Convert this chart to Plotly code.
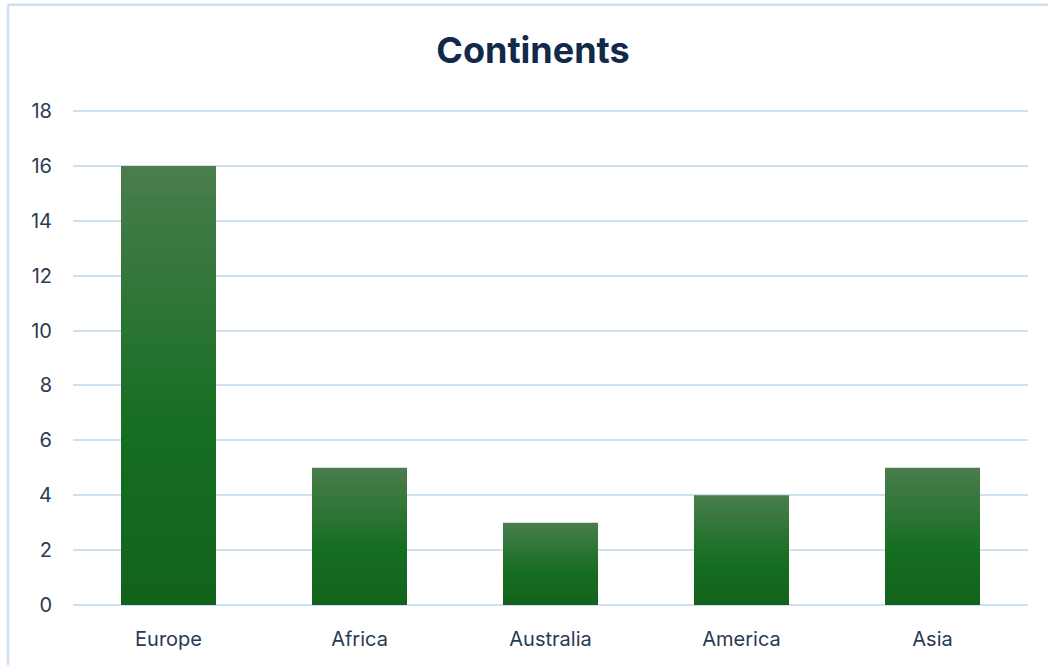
import plotly.graph_objects as go

categories = ["Europe", "Africa", "Australia", "America", "Asia"]
values = [16, 5, 3, 4, 5]
y_ticks = [0, 2, 4, 6, 8, 10, 12, 14, 16, 18]
title_text = "Continents"

# gradient stops (fraction of bar height from bottom -> rgb)
stops = [(0.0, (19, 98, 28)), (0.4, (21, 110, 33)), (1.0, (74, 125, 77))]


def grad_color(f):
    for (f0, c0), (f1, c1) in zip(stops[:-1], stops[1:]):
        if f0 <= f <= f1:
            t = (f - f0) / (f1 - f0) if f1 > f0 else 0
            c = [round(a + (b - a) * t) for a, b in zip(c0, c1)]
            return f"rgb({c[0]},{c[1]},{c[2]})"
    c = stops[-1][1]
    return f"rgb({c[0]},{c[1]},{c[2]})"


N = 60
fig = go.Figure()
# tallest (lightest) first; each shorter, darker layer drawn on top -> smooth gradient
for i in range(N):
    frac_top = (N - i) / N
    fig.add_trace(go.Bar(
        x=categories,
        y=[v * frac_top for v in values],
        marker=dict(color=grad_color(frac_top - 0.5 / N), line=dict(width=0)),
        width=95 / 191,
        hoverinfo="skip",
        showlegend=False,
    ))

font_family = "Inter, 'Open Sans', sans-serif"
fig.update_layout(
    width=1048, height=665,
    margin=dict(l=73, r=20, t=110, b=60),
    paper_bgcolor="white", plot_bgcolor="white",
    barmode="overlay",
    title=dict(text=f"<b>{title_text}</b>", x=533 / 1048, xanchor="center",
               y=1 - 50 / 665, yanchor="middle",
               font=dict(family=font_family, size=36, color="#12294a")),
    font=dict(family=font_family, size=20, color="#2a3b52"),
    xaxis=dict(showgrid=False, showline=False, ticks="", tickfont=dict(size=20),
               ticklabelstandoff=20),
    yaxis=dict(range=[0, 18.04], tickvals=y_ticks, showgrid=True, gridcolor="#cfe0f3",
               gridwidth=2, zeroline=True, zerolinecolor="#cfe0f3", zerolinewidth=2,
               ticks="", tickfont=dict(size=20), ticklabelstandoff=20),
    shapes=[
        dict(type="line", xref="paper", yref="paper", x0=-0.068, x1=1.1,
             y0=1.2126, y1=1.2126, line=dict(color="#cfe0f3", width=2.5)),
        dict(type="line", xref="paper", yref="paper", x0=-0.068, x1=-0.068,
             y0=1.2126, y1=-0.2, line=dict(color="#cfe0f3", width=2.5)),
    ],
)

fig.write_html("out.html", config={"displayModeBar": False},
               post_script="document.body.style.margin='0';")
